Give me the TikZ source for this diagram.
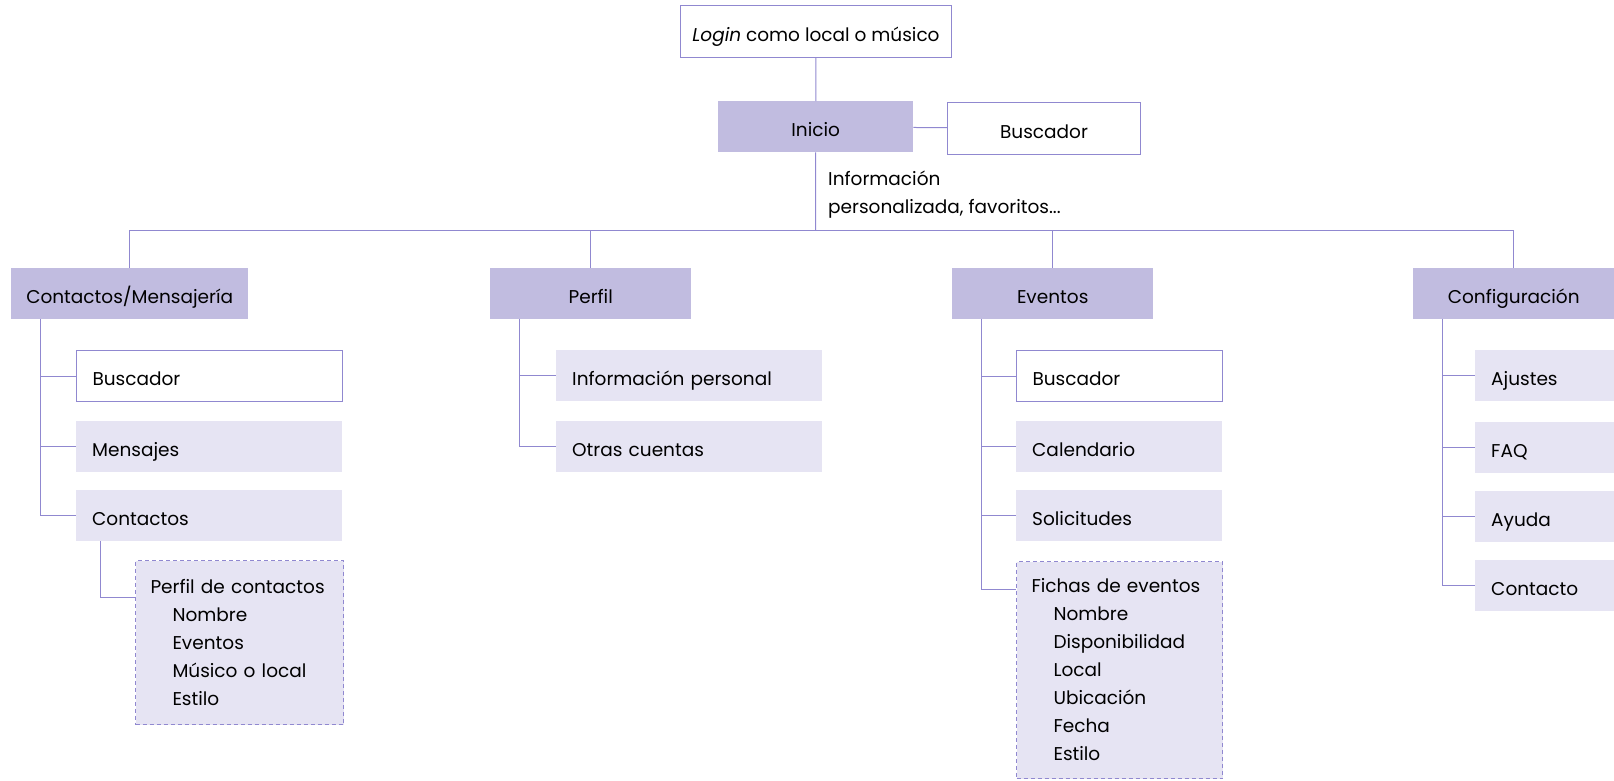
\documentclass[tikz,border=0pt]{standalone}
\usepackage{fontspec}
\setmainfont{Poppins}
\definecolor{lila}{HTML}{C1BCE0}
\definecolor{lilaclaro}{HTML}{E6E4F3}
\definecolor{trazo}{HTML}{9088D0}
\begin{document}
\begin{tikzpicture}[x=1pt,y=-1pt,every node/.style={font=\fontsize{18.5}{28}\selectfont,inner sep=0pt,anchor=north west},
  principal/.style={fill=lila,minimum height=51pt,align=center,text height=21pt,text depth=2pt},
  marco/.style={draw=trazo,line width=1pt,fill=white,minimum height=52pt,align=center,text height=21pt,text depth=2pt},
  hoja/.style={fill=lilaclaro,minimum height=51pt,inner xsep=16pt,align=left,text height=21pt,text depth=2pt},
  hojab/.style={hoja,fill=white,draw=trazo,line width=1pt},
  ficha/.style={fill=lilaclaro,draw=trazo,dash pattern=on 4pt off 3pt,line width=1pt,inner xsep=15pt,align=left},
  une/.style={draw=trazo,line width=1pt}]
\useasboundingbox (0,0) rectangle (1614,780);
\node[marco,minimum width=271pt] (login) at (680,5) {\textit{Login} como local o músico};
\node[principal,minimum width=195pt] (inicio) at (718,101) {Inicio};
\node[marco,minimum width=193pt] (busca) at (947,102) {Buscador};
\node[align=left] (info) at (828,171) {Información\\personalizada, favoritos...};
\coordinate (bus) at (815.5,230);
\node[principal,minimum width=237pt] (mens) at (11,268) {Contactos/Mensajería};
\node[principal,minimum width=201pt] (perfil) at (490,268) {Perfil};
\node[principal,minimum width=201pt] (eventos) at (952,268) {Eventos};
\node[principal,minimum width=201pt] (config) at (1413,268) {Configuración};
% contactos
\node[hojab,text width=234pt] (mbusca) at (76,350) {Buscador};
\node[hoja,text width=234pt] (mmens) at (76,421) {Mensajes};
\node[hoja,text width=234pt] (mcont) at (76,490) {Contactos};
\node[ficha,text width=178pt,minimum height=164pt] (mperfil) at (135,560) {Perfil de contactos\\\hspace*{22pt}Nombre\\\hspace*{22pt}Eventos\\\hspace*{22pt}Músico o local\\\hspace*{22pt}Estilo};
% perfil
\node[hoja,text width=234pt] (pinfo) at (556,350) {Información personal};
\node[hoja,text width=234pt] (potras) at (556,421) {Otras cuentas};
% eventos
\node[hojab,text width=174pt] (ebusca) at (1016,350) {Buscador};
\node[hoja,text width=174pt] (ecal) at (1016,421) {Calendario};
\node[hoja,text width=174pt] (esol) at (1016,490) {Solicitudes};
\node[ficha,text width=176pt,minimum height=217pt] (eficha) at (1016,561) {Fichas de eventos\\\hspace*{22pt}Nombre\\\hspace*{22pt}Disponibilidad\\\hspace*{22pt}Local\\\hspace*{22pt}Ubicación\\\hspace*{22pt}Fecha\\\hspace*{22pt}Estilo};
% configuracion
\node[hoja,text width=174pt] (cajus) at (1475,350) {Ajustes};
\node[hoja,text width=174pt] (cfaq) at (1475,422) {FAQ};
\node[hoja,text width=174pt] (cayuda) at (1475,491) {Ayuda};
\node[hoja,text width=174pt] (ccontacto) at (1475,560) {Contacto};
\draw[une] (login) -- (inicio);
\draw[une] (inicio) -- (busca);
\draw[une] (inicio.south) -- (bus);
\foreach \n in {mens,perfil,eventos,config}
  \draw[une] (\n.north) |- (bus);
\foreach \p/\h in {mens/mbusca,mens/mmens,mens/mcont,perfil/pinfo,perfil/potras,eventos/ebusca,eventos/ecal,eventos/esol,config/cajus,config/cfaq,config/cayuda,config/ccontacto}
  \draw[une] ([xshift=29pt]\p.south west) |- (\h.west);
\draw[une] ([xshift=29pt]eventos.south west) |- ([yshift=-28pt]eficha.north west);
\draw[une] ([xshift=24pt]mcont.south west) |- ([yshift=-37pt]mperfil.north west);
\end{tikzpicture}
\end{document}
